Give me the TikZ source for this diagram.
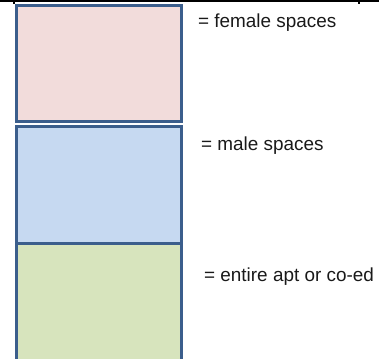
\documentclass[tikz,border=0pt]{standalone}
\usepackage{fontspec}
\setmainfont{Liberation Sans}
\usepackage{tikz}
\usetikzlibrary{positioning}

\definecolor{femalefill}{HTML}{F2DCDB}
\definecolor{malefill}{HTML}{C6D9F1}
\definecolor{mixedfill}{HTML}{D7E4BD}
\definecolor{boxline}{HTML}{3B5E8C}

\begin{document}
\begin{tikzpicture}[
    x=1pt, y=-1pt,
    keybox/.style={draw=boxline, line width=3pt, minimum width=165pt,
                   inner sep=0pt, outer sep=0pt},
    keytext/.style={anchor=base west, inner sep=0pt, text=black!90,
                    font=\fontsize{18.9}{22}\selectfont},
    rule/.style={draw=black, line width=2pt},
]

% Frame: 379 x 358, y grows downward
\useasboundingbox (0,0) rectangle (379,358);
\clip (0,0) rectangle (379,358);

% Top table rule with its little ticks
\draw[rule] (0,1) -- (379,1);
\draw[rule, line width=1.5pt] (14,0) -- (14,4);
\draw[rule, line width=1.5pt] (359,0) -- (359,4);

% Colour key boxes
\node[keybox, fill=femalefill, minimum height=115.5pt] at (99,63.5)  (female) {};
\node[keybox, fill=malefill,   minimum height=117pt]   at (99,185)   (male)   {};
\node[keybox, fill=mixedfill,  minimum height=130pt]   at (99,308.5) (mixed)  {};

% Legend texts
\node[keytext] at (198,28)    (femaletxt) {= female spaces};
\node[keytext] at (201,150)   (maletxt)   {= male spaces};
\node[keytext] at (204,281.7) (mixedtxt)  {= entire apt or co-ed};
\end{tikzpicture}
\end{document}
